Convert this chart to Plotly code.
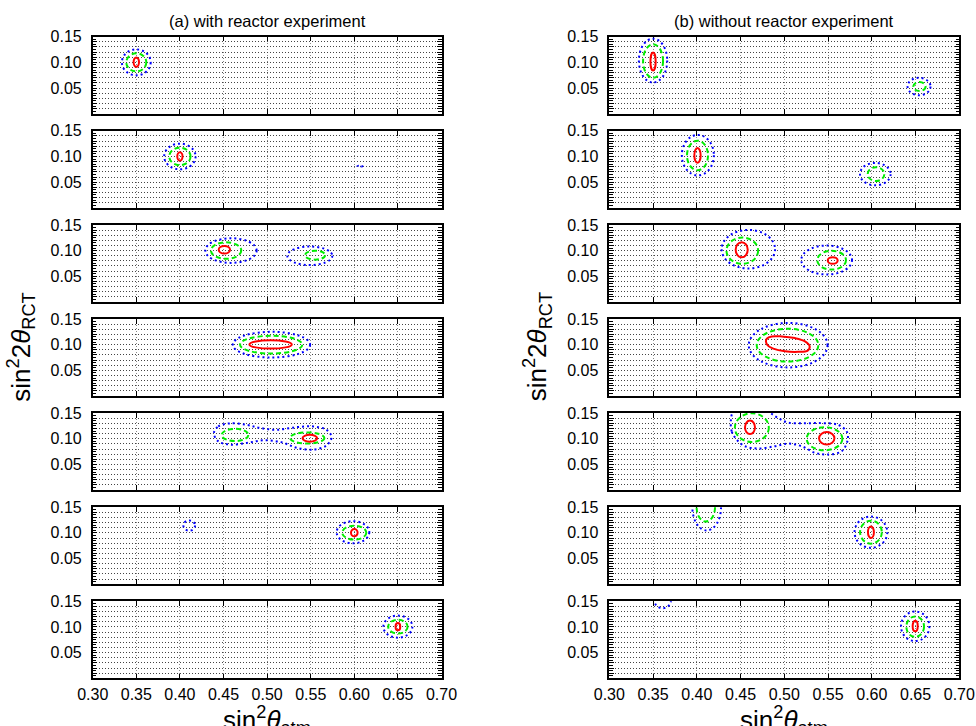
import plotly.graph_objects as go

# ---------------- data ----------------
# ellipses: (row, center_x, center_y, half_width_x, half_height_y); rows 1..7 top to bottom
a_red = [(1, 0.350, 0.1005, 0.0031, 0.0090), (2, 0.400, 0.100, 0.0030, 0.0080),
         (3, 0.451, 0.1015, 0.0065, 0.0074), (4, 0.504, 0.1004, 0.0243, 0.0080),
         (5, 0.549, 0.101, 0.0084, 0.0067), (6, 0.600, 0.1004, 0.0038, 0.0070),
         (7, 0.650, 0.1006, 0.0027, 0.0070)]
a_green = [(1, 0.350, 0.1000, 0.0115, 0.0176), (2, 0.400, 0.100, 0.0122, 0.0170),
           (3, 0.453, 0.1000, 0.0174, 0.0160), (3, 0.555, 0.091, 0.0115, 0.0087),
           (4, 0.5047, 0.100, 0.0357, 0.0173), (5, 0.4632, 0.1075, 0.0153, 0.0119),
           (5, 0.546, 0.1015, 0.0197, 0.0109), (6, 0.600, 0.1004, 0.0138, 0.0135),
           (7, 0.650, 0.1006, 0.0111, 0.0135)]
a_blue = [(1, 0.350, 0.1000, 0.0165, 0.0253), (2, 0.400, 0.100, 0.0180, 0.0250),
          (2, 0.6065, 0.081, 0.0030, 0.0008),
          (3, 0.4586, 0.100, 0.0294, 0.0240), (3, 0.549, 0.0898, 0.0258, 0.0180),
          (4, 0.505, 0.100, 0.0443, 0.0250), (6, 0.4107, 0.1142, 0.0067, 0.0100),
          (6, 0.5985, 0.1012, 0.0187, 0.0215), (7, 0.650, 0.1006, 0.0166, 0.0215)]

b_red = [(1, 0.350, 0.1017, 0.0030, 0.0176), (2, 0.4008, 0.102, 0.0036, 0.0144),
         (3, 0.4513, 0.1017, 0.0069, 0.0147), (3, 0.5553, 0.0806, 0.0057, 0.0064),
         (5, 0.4608, 0.1223, 0.0057, 0.0131), (5, 0.5485, 0.1008, 0.0088, 0.0122),
         (6, 0.599, 0.1013, 0.0034, 0.0112), (7, 0.6496, 0.1019, 0.0029, 0.0103)]
b_green = [(1, 0.350, 0.1026, 0.0114, 0.0327), (1, 0.6545, 0.0529, 0.0070, 0.0087),
           (2, 0.4008, 0.102, 0.0120, 0.0288), (2, 0.6048, 0.0656, 0.0095, 0.0135),
           (3, 0.452, 0.0998, 0.0181, 0.0256), (3, 0.5541, 0.0812, 0.0164, 0.0183),
           (4, 0.5037, 0.0990, 0.0352, 0.0320), (5, 0.4629, 0.1217, 0.0194, 0.0279),
           (5, 0.546, 0.100, 0.0204, 0.0224), (6, 0.4103, 0.150, 0.0105, 0.0280),
           (6, 0.599, 0.1014, 0.0124, 0.0224), (7, 0.6496, 0.1006, 0.0101, 0.0199)]
b_blue = [(1, 0.350, 0.1034, 0.0162, 0.0427), (1, 0.654, 0.053, 0.0131, 0.0170),
          (2, 0.4012, 0.1025, 0.0183, 0.0394), (2, 0.6040, 0.0656, 0.0175, 0.0218),
          (3, 0.4589, 0.1027, 0.0305, 0.0375), (3, 0.5484, 0.0816, 0.0290, 0.0282),
          (4, 0.5044, 0.099, 0.0450, 0.0433), (6, 0.4113, 0.150, 0.0164, 0.0452),
          (6, 0.599, 0.1013, 0.0187, 0.0304), (7, 0.6496, 0.1013, 0.0162, 0.0288),
          (7, 0.361, 0.152, 0.0095, 0.0155)]

# irregular contours: point lists
a_blue_row5_x = [0.439, 0.444, 0.4575, 0.477, 0.492, 0.511, 0.534, 0.553, 0.568, 0.574,
                 0.568, 0.553, 0.534, 0.517, 0.496, 0.477, 0.4575, 0.444, 0.439]
a_blue_row5_y = [0.111, 0.124, 0.130, 0.127, 0.121, 0.1175, 0.1227, 0.124, 0.1175, 0.1035,
                 0.0867, 0.079, 0.0823, 0.093, 0.097, 0.092, 0.0887, 0.095, 0.111]

b_blue_row5_x = [0.439, 0.440, 0.4456, 0.455, 0.470, 0.489, 0.5046, 0.520, 0.535, 0.5503,
                 0.5656, 0.5725, 0.5713, 0.5617, 0.5427, 0.5237, 0.5046, 0.4931, 0.4837,
                 0.476, 0.4568, 0.4417, 0.439]
b_blue_row5_y = [0.1367, 0.114, 0.0983, 0.0854, 0.081, 0.0854, 0.0906, 0.0854, 0.0727, 0.0694,
                 0.0758, 0.0983, 0.114, 0.1271, 0.1304, 0.1304, 0.1315, 0.140, 0.1508,
                 0.159, 0.159, 0.152, 0.1367]

b_red_row4_x = [0.480, 0.4856, 0.497, 0.5122, 0.5237, 0.529, 0.5267, 0.516, 0.5008, 0.4874,
                0.481, 0.479, 0.480]
b_red_row4_y = [0.1115, 0.116, 0.116, 0.1128, 0.1064, 0.0968, 0.0885, 0.086, 0.0871, 0.0923,
                0.0987, 0.1064, 0.1115]

x_ticks = [0.30, 0.35, 0.40, 0.45, 0.50, 0.55, 0.60, 0.65, 0.70]
y_grid = [0.00, 0.01, 0.02, 0.03, 0.04, 0.05, 0.06, 0.07, 0.08, 0.09, 0.10, 0.11, 0.12,
          0.13, 0.14, 0.15]
y_labels = {0.05: "0.05", 0.10: "0.10", 0.15: "0.15"}
panel_titles = ["(a) with reactor experiment", "(b) without reactor experiment"]

# ---------------- layout geometry ----------------
W, H = 976, 726
col_x = [(92.7, 441.5), (609.3, 959.3)]
row_top0, row_step, row_h = 36.7, 94.1, 77.0

RED = "#ff0000"
GREEN = "#00ee00"
BLUE = "#0000ff"
FONT = "Liberation Sans, Arial, sans-serif"

fig = go.Figure()
layout = dict(width=W, height=H,
              margin=dict(l=0, r=0, t=0, b=0, pad=0, autoexpand=False),
              paper_bgcolor="white", plot_bgcolor="white", showlegend=False)


def axis_id(row, col):
    return (row - 1) * 2 + col + 1


y_text = [y_labels.get(round(v, 2), "") for v in y_grid]

for row in range(1, 8):
    top = row_top0 + (row - 1) * row_step
    bot = top + row_h
    for col in range(2):
        i = axis_id(row, col)
        xs = "" if i == 1 else str(i)
        x0, x1 = col_x[col]
        layout["xaxis" + xs] = dict(
            domain=[x0 / W, x1 / W], anchor="y" + xs, range=[0.30, 0.70],
            tickvals=x_ticks, ticktext=["%.2f" % v for v in x_ticks],
            showticklabels=(row == 7), ticks="inside", ticklen=5, tickwidth=1,
            tickcolor="black", showline=True, linecolor="black", linewidth=1.5,
            mirror="allticks", showgrid=True, gridcolor="#8a8a8a", griddash="1px,2px",
            gridwidth=1, zeroline=False, tickfont=dict(family=FONT, size=16, color="black"),
            ticklabelstandoff=1, automargin=False, fixedrange=True)
        layout["yaxis" + xs] = dict(
            domain=[1 - bot / H, 1 - top / H], anchor="x" + xs, range=[0, 0.15],
            tickvals=y_grid, ticktext=y_text,
            ticks="inside", ticklen=5, tickwidth=1, tickcolor="black",
            showline=True, linecolor="black", linewidth=1.5, mirror="allticks",
            showgrid=True, gridcolor="#444444", griddash="1px,2px", gridwidth=1,
            minor=dict(dtick=0.005, tick0=0, ticks="inside", ticklen=4, tickcolor="black",
                       showgrid=False),
            zeroline=False, tickfont=dict(family=FONT, size=16, color="black"),
            ticklabelstandoff=6, automargin=False, fixedrange=True)

shapes = []


def add_ellipses(items, col, color, dash, width):
    for (row, cx, cy, rx, ry) in items:
        i = axis_id(row, col)
        xs = "" if i == 1 else str(i)
        shapes.append(dict(type="circle", xref="x" + xs, yref="y" + xs,
                           x0=cx - rx, x1=cx + rx, y0=cy - ry, y1=cy + ry,
                           line=dict(color=color, width=width, dash=dash), layer="above"))


add_ellipses(a_blue, 0, BLUE, "2px,3px", 2)
add_ellipses(a_green, 0, GREEN, "5px,3px", 2)
add_ellipses(a_red, 0, RED, "solid", 2)
add_ellipses(b_blue, 1, BLUE, "2px,3px", 2)
add_ellipses(b_green, 1, GREEN, "5px,3px", 2)
add_ellipses(b_red, 1, RED, "solid", 2)


def add_poly(xv, yv, row, col, color, dash):
    i = axis_id(row, col)
    xs = "" if i == 1 else str(i)
    fig.add_trace(go.Scatter(x=xv, y=yv, mode="lines", xaxis="x" + xs, yaxis="y" + xs,
                             line=dict(color=color, width=2, dash=dash, shape="spline",
                                       smoothing=1.0),
                             hoverinfo="skip"))


add_poly(a_blue_row5_x, a_blue_row5_y, 5, 0, BLUE, "2px,3px")
add_poly(b_blue_row5_x, b_blue_row5_y, 5, 1, BLUE, "2px,3px")
add_poly(b_red_row4_x, b_red_row4_y, 4, 1, RED, "solid")

annotations = []
for col in range(2):
    x0, x1 = col_x[col]
    xc = (x0 + x1) / 2 / W
    annotations.append(dict(text=panel_titles[col], x=xc, y=1 - 21 / H, xref="paper",
                            yref="paper", showarrow=False, xanchor="center",
                            yanchor="middle",
                            font=dict(family=FONT, size=16.5, color="black")))
    annotations.append(dict(text="sin<sup>2</sup><i>θ</i><sub>atm</sub>", x=xc,
                            y=1 - 720 / H, xref="paper", yref="paper", showarrow=False,
                            xanchor="center", yanchor="middle",
                            font=dict(family=FONT, size=26, color="black")))
    annotations.append(dict(text="sin<sup>2</sup>2<i>θ</i><sub>RCT</sub>",
                            x=(x0 - 72) / W, y=1 - 347 / H, xref="paper", yref="paper",
                            showarrow=False, textangle=-90, xanchor="center",
                            yanchor="middle",
                            font=dict(family=FONT, size=26, color="black")))

layout["shapes"] = shapes
layout["annotations"] = annotations
fig.update_layout(**layout)
fig.write_html("out.html")
